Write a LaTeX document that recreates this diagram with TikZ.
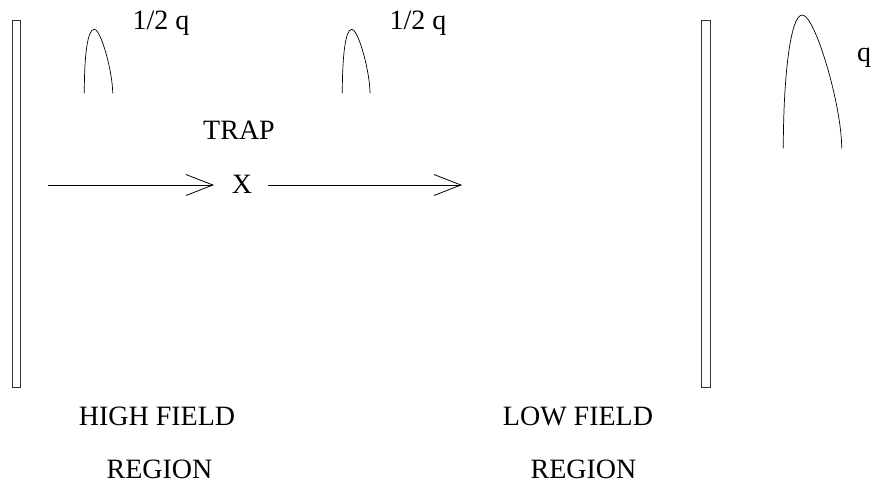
\documentclass[tikz,border=0pt]{standalone}
\usepackage{fontspec}
\setmainfont{Liberation Serif}
\usetikzlibrary{arrows.meta}
\begin{document}
\begin{tikzpicture}[x=1pt,y=-1pt,
  lbl/.style={font=\fontsize{28}{32}\selectfont, inner sep=0pt, anchor=base},
  plate/.style={draw=black!80, line width=0.8pt},
  pulse/.style={draw=black, line width=0.7pt},
  flow/.style={draw=black, line width=0.8pt, -{Straight Barb[length=27pt,width=21pt,line width=0.8pt]}}]
\useasboundingbox (0,0) rectangle (874,490);
% plates
\draw[plate] (12,20) rectangle (20.5,387.5);
\draw[plate] (701,20.5) rectangle (710,387.5);
% pulses
\draw[pulse] (84.3,93.3) .. controls (84.3,55) and (87.5,29.3) .. (94.3,29.3)
  .. controls (101,29.3) and (112.7,72) .. (112.7,93.3);
\draw[pulse] (342.3,93.3) .. controls (342.3,55) and (345.5,29.3) .. (351.7,29.3)
  .. controls (358.5,29.3) and (370,72) .. (370,93.3);
\draw[pulse] (783.3,148.3) .. controls (783.3,80) and (790,15) .. (802.3,15)
  .. controls (815,15) and (841.7,105) .. (841.7,148.3);
% labels
\node[lbl] (h1) at (161,29) {1/2 q};
\node[lbl] (h2) at (418,29) {1/2 q};
\node[lbl] (h3) at (864,61) {q};
\node[lbl] (trap) at (239,139) {TRAP};
\node[lbl] (x) at (242,193.3) {X};
\node[lbl] (hf) at (157,425) {HIGH FIELD};
\node[lbl] (hr) at (159.5,478) {REGION};
\node[lbl] (lf) at (578,425) {LOW FIELD};
\node[lbl] (lr) at (583.5,478) {REGION};
% arrows
\coordinate (a1s) at (48,185);
\coordinate (a1e) at (214,185);
\coordinate (a2s) at (268,185);
\coordinate (a2e) at (462,185);
\draw[flow] (a1s) -- (a1e);
\draw[flow] (a2s) -- (a2e);
\end{tikzpicture}
\end{document}
